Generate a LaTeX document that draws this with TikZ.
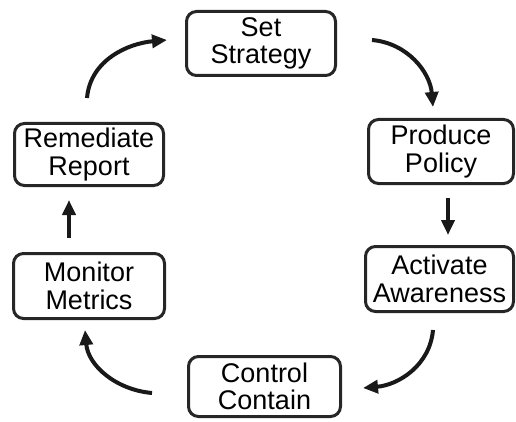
\documentclass[tikz,border=0pt]{standalone}
\usepackage{fontspec}
\setmainfont{Liberation Sans}
\usetikzlibrary{arrows.meta}
\begin{document}
\begin{tikzpicture}[x=1pt,y=1pt,
  stepbox/.style={draw=black!85, line width=3pt, rounded corners=10pt, align=center,
    inner sep=0pt, font=\fontsize{27}{27.5}\selectfont},
  flow/.style={line width=4pt, draw=black!90, -{Triangle[length=15pt,width=13pt]}}]
\useasboundingbox (0,0) rectangle (516,421);
\node[stepbox, minimum width=149pt, minimum height=64pt] (set) at (261,377.5) {Set\\Strategy};
\node[stepbox, minimum width=145pt, minimum height=64pt] (pro) at (441,269.5) {Produce\\Policy};
\node[stepbox, minimum width=148pt, minimum height=65pt] (act) at (439.5,142) {Activate\\Awareness};
\node[stepbox, minimum width=152pt, minimum height=60pt] (con) at (264.5,34.5) {Control\\Contain};
\node[stepbox, minimum width=151pt, minimum height=65pt] (mon) at (89,135) {Monitor\\Metrics};
\node[stepbox, minimum width=149pt, minimum height=62pt] (rem) at (89,266.5) {Remediate\\Report};
\coordinate (a1) at (372,381); \coordinate (b1) at (433,314);
\coordinate (a2) at (448,223); \coordinate (b2) at (448,186);
\coordinate (a3) at (433,91);  \coordinate (b3) at (363,33);
\coordinate (a4) at (152,28);  \coordinate (b4) at (85,91);
\coordinate (a5) at (69,183);  \coordinate (b5) at (69,221);
\coordinate (a6) at (87,323);  \coordinate (b6) at (167,381);
\draw[flow] (a1) to[out=-5,in=95] (b1);
\draw[flow] (a2) -- (b2);
\draw[flow] (a3) to[out=-95,in=5] (b3);
\draw[flow] (a4) to[out=175,in=-85] (b4);
\draw[flow] (a5) -- (b5);
\draw[flow] (a6) to[out=85,in=185] (b6);
\end{tikzpicture}
\end{document}
